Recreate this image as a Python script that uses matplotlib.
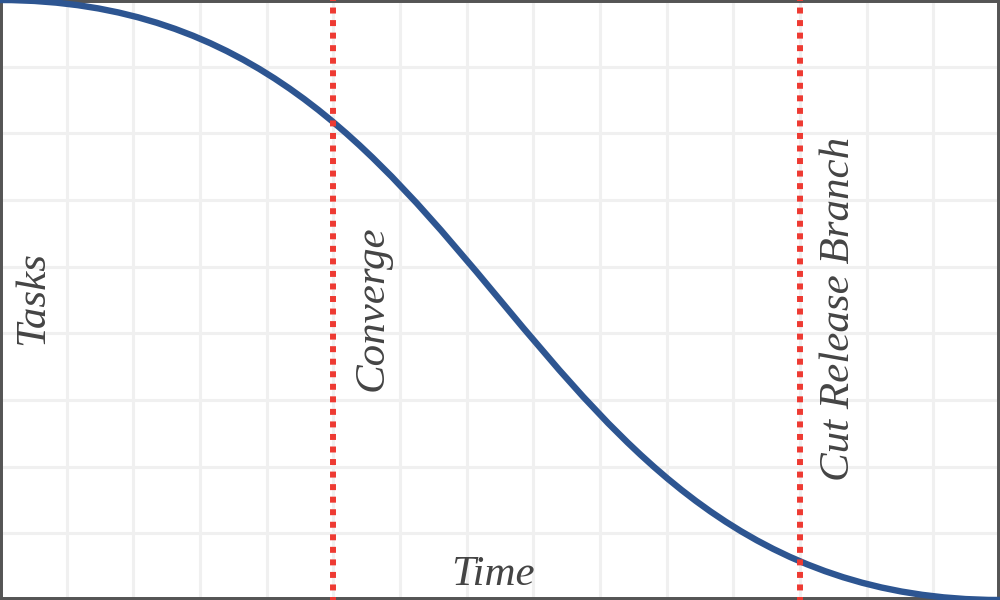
import matplotlib
matplotlib.use("Agg")
import matplotlib.pyplot as plt
from matplotlib.path import Path
from matplotlib.patches import PathPatch

# burndown curve: cubic bezier nodes (start, ctrl, ctrl, end) in grid units
curve_x = [0, 7.5, 7.5, 15]
curve_y = [9, 9, 0, 0]

# milestones (x position in grid units)
milestone_x = [5, 12]
milestone_labels = ["Converge", "Cut Release Branch"]

n_cols = 15
n_rows = 9

text_color = "#444444"
font = dict(family="Liberation Serif", style="italic", size=31, color=text_color)

fig = plt.figure(figsize=(10, 6), dpi=100)
ax = fig.add_axes([0, 0, 1, 1])
ax.set_xlim(0, n_cols)
ax.set_ylim(0, n_rows)

# grid
for i in range(1, n_cols):
    ax.axvline(i, color="#f0f0f0", lw=2.2, zorder=0)
for j in range(1, n_rows):
    ax.axhline(j, color="#f0f0f0", lw=2.2, zorder=0)

# curve
verts = list(zip(curve_x, curve_y))
codes = [Path.MOVETO, Path.CURVE4, Path.CURVE4, Path.CURVE4]
ax.add_patch(PathPatch(Path(verts, codes), facecolor="none",
                       edgecolor="#2d5591", lw=4.6, zorder=3))

# milestone lines
for mx, lab in zip(milestone_x, milestone_labels):
    ax.axvline(mx, color="#ee3a32", lw=4.3, linestyle=(0.5, (1.0, 1.1)),
               dash_capstyle="butt", zorder=4)
    ax.text(mx + 0.58, 4.37, lab, rotation=90, ha="center", va="center",
            fontdict=font)

ax.text(0.5, 4.53, "Tasks", rotation=90, ha="center", va="center", fontdict=font)
ax.text(7.4, 0.22, "Time", ha="center", va="baseline", fontdict=font)

ax.set_xticks([])
ax.set_yticks([])
for s in ax.spines.values():
    s.set_color("#555555")
    s.set_linewidth(4.3)

fig.savefig("out.png", dpi=100)
